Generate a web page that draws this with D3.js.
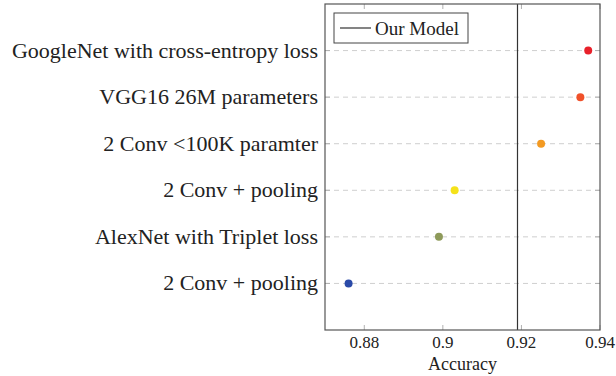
<!DOCTYPE html>
<html>
<head>
<meta charset="utf-8">
<script src="https://cdn.jsdelivr.net/npm/d3@7"></script>
<style>
  body { margin: 0; background: #fff; }
  .grid line { stroke: #cfcfcf; stroke-dasharray: 5,4; stroke-width: 1; }
</style>
</head>
<body>
<svg width="616" height="376"></svg>
<script>
// models, top to bottom
var models = [
  "GoogleNet with cross-entropy loss",
  "VGG16 26M parameters",
  "2 Conv <100K paramter",
  "2 Conv + pooling",
  "AlexNet with Triplet loss",
  "2 Conv + pooling"
];
var accuracy = [0.937, 0.935, 0.925, 0.903, 0.899, 0.876];
var dotColors = ["#e8202a", "#f0512a", "#f39a22", "#f5e21a", "#8e9a5a", "#2a4aa8"];
var xTicks = [0.88, 0.9, 0.92, 0.94];
var ourModel = 0.919;

var serif = "'Liberation Serif', 'Times New Roman', serif";
var svg = d3.select("svg");
var plotL = 325, plotR = 600, plotT = 4, plotB = 330;

var x = d3.scaleLinear().domain([0.87, 0.94]).range([plotL, plotR]);
// rows sit at 1..6 from the top, with a step of room at each end
var y = d3.scaleLinear().domain([0, models.length + 1]).range([plotT, plotB]);

// dashed horizontal grid
svg.append("g").attr("class", "grid")
  .selectAll("line")
  .data(models)
  .enter().append("line")
  .attr("x1", plotL).attr("x2", plotR)
  .attr("y1", (d, i) => y(i + 1)).attr("y2", (d, i) => y(i + 1));

// tick marks inside the box
var tk = svg.append("g").attr("stroke", "#b0b0b0").attr("stroke-width", 1);
xTicks.forEach(function(t) {
  tk.append("line").attr("x1", x(t)).attr("x2", x(t)).attr("y1", plotT).attr("y2", plotT + 5);
  tk.append("line").attr("x1", x(t)).attr("x2", x(t)).attr("y1", plotB).attr("y2", plotB - 5);
});
models.forEach(function(d, i) {
  tk.append("line").attr("x1", plotL).attr("x2", plotL + 5).attr("y1", y(i + 1)).attr("y2", y(i + 1));
  tk.append("line").attr("x1", plotR).attr("x2", plotR - 5).attr("y1", y(i + 1)).attr("y2", y(i + 1));
});

// our model line
svg.append("line")
  .attr("x1", x(ourModel)).attr("x2", x(ourModel))
  .attr("y1", plotT).attr("y2", plotB)
  .attr("stroke", "#333").attr("stroke-width", 1.2);

// points
svg.selectAll(".dot")
  .data(accuracy)
  .enter().append("circle")
  .attr("class", "dot")
  .attr("cx", d => x(d))
  .attr("cy", (d, i) => y(i + 1))
  .attr("r", 4)
  .style("fill", (d, i) => dotColors[i]);

// frame
svg.append("rect")
  .attr("x", plotL).attr("y", plotT)
  .attr("width", plotR - plotL).attr("height", plotB - plotT)
  .attr("fill", "none").attr("stroke", "#555").attr("stroke-width", 1.2);

// category labels
svg.selectAll(".ylab")
  .data(models)
  .enter().append("text")
  .attr("class", "ylab")
  .attr("x", plotL - 7)
  .attr("y", (d, i) => y(i + 1))
  .attr("dy", "0.32em")
  .attr("text-anchor", "end")
  .style("font-family", serif)
  .style("font-size", "22px")
  .attr("fill", "#222")
  .text(d => d);

// x tick labels
svg.selectAll(".xlab")
  .data(xTicks)
  .enter().append("text")
  .attr("class", "xlab")
  .attr("x", d => x(d))
  .attr("y", plotB + 18)
  .attr("text-anchor", "middle")
  .style("font-family", serif)
  .style("font-size", "17px")
  .attr("fill", "#222")
  .text(d => d3.format("")(d));

svg.append("text")
  .attr("x", (plotL + plotR) / 2)
  .attr("y", 370)
  .attr("text-anchor", "middle")
  .style("font-family", serif)
  .style("font-size", "18px")
  .attr("fill", "#222")
  .text("Accuracy");

// legend
var lg = svg.append("g").attr("transform", "translate(334,13)");
lg.append("rect").attr("width", 134).attr("height", 30)
  .attr("fill", "#fff").attr("stroke", "#444").attr("stroke-width", 1);
lg.append("line").attr("x1", 6).attr("x2", 37).attr("y1", 15).attr("y2", 15)
  .attr("stroke", "#333").attr("stroke-width", 1.2);
lg.append("text").attr("x", 41).attr("y", 15).attr("dy", "0.35em")
  .style("font-family", serif)
  .style("font-size", "19px").attr("fill", "#222").text("Our Model");
</script>
</body>
</html>
